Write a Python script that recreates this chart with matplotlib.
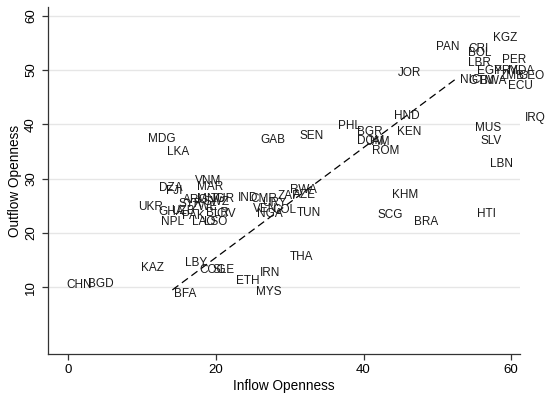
"""
Inflow vs outflow openness scatter (country labels) with fitted line
"""
import matplotlib
matplotlib.use("Agg")
import matplotlib.pyplot as plt

plt.rcParams["font.family"] = ["Liberation Sans", "DejaVu Sans"]

# country codes and their (inflow, outflow) openness
codes = ["MDG", "LKA", "GAB", "SEN", "PHL", "BGR", "DOM", "JAM", "ROM", "HND",
         "KEN", "JOR", "PAN", "CRI", "BOL", "KGZ", "LBR", "PER", "EGY", "PRY",
         "MDA", "ZMB", "GEO", "NIC", "GTM", "BWA", "ECU", "IRQ", "MUS", "SLV",
         "LBN", "VNM", "MAR", "DZA", "FJI", "UKR", "GHA", "NPL", "ARG", "MNG",
         "TUR", "SYR", "ZWE", "SWZ", "UZB", "PAK", "BLR", "CIV", "LAO", "LSO",
         "IND", "CMR", "URY", "ZAF", "RWA", "AZE", "VEN", "COL", "NGA", "TUN",
         "KHM", "SCG", "BRA", "HTI", "THA", "KAZ", "CHN", "BGD", "LBY", "COG",
         "SLE", "ETH", "IRN", "MYS", "BFA"]
inflow = [10.8, 13.4, 26.0, 31.3, 36.6, 39.1, 39.1, 40.5, 41.1, 44.1,
          44.5, 44.7, 49.8, 54.2, 54.2, 57.6, 54.2, 58.7, 55.4, 57.7,
          59.6, 58.5, 61.0, 53.1, 54.2, 55.8, 59.6, 61.9, 55.1, 55.8,
          57.1, 17.1, 17.5, 12.3, 13.3, 9.4, 12.2, 12.5, 15.6, 17.4,
          19.3, 15.0, 16.7, 18.3, 14.0, 15.4, 18.7, 20.1, 16.7, 18.4,
          23.0, 24.7, 26.2, 28.4, 30.0, 30.4, 25.0, 27.6, 25.6, 30.9,
          43.8, 41.9, 46.8, 55.3, 30.0, 9.9, -0.3, 2.7, 15.8, 17.8,
          19.6, 22.7, 25.9, 25.4, 14.3]
outflow = [37.3, 34.9, 37.1, 37.9, 39.6, 38.5, 37.0, 36.8, 35.1, 41.5,
           38.6, 49.4, 54.3, 53.9, 53.1, 55.9, 51.3, 51.9, 49.9, 49.8,
           49.8, 48.9, 48.9, 48.2, 47.9, 47.9, 47.1, 41.1, 39.4, 36.9,
           32.7, 29.6, 28.5, 28.3, 27.8, 24.7, 23.9, 22.0, 26.1, 26.3,
           26.3, 25.3, 24.8, 25.6, 24.1, 23.1, 23.7, 23.4, 22.0, 22.0,
           26.5, 26.2, 25.5, 26.8, 27.9, 26.9, 24.4, 24.3, 23.4, 23.6,
           27.0, 23.3, 22.0, 23.5, 15.5, 13.6, 10.4, 10.6, 14.4, 13.2,
           13.2, 11.2, 12.7, 9.1, 8.7]

# fitted line end points
fit_x = [14.1, 52.8]
fit_y = [9.5, 48.65]

fig = plt.figure(figsize=(5.58, 4.0), dpi=100)
ax = fig.add_axes([0.0853, 0.115, 0.8467, 0.8675])

for c, x, y in zip(codes, inflow, outflow):
    ax.text(x, y, c, ha="left", va="center", fontsize=8.5, color="#1a1a1a")

ax.plot(fit_x, fit_y, color="black", lw=0.9, ls=(0, (6, 3.5)))

ax.set_xlim(-2.8, 61.2)
ax.set_ylim(-2.3, 61.6)
ax.set_xticks([0, 20, 40, 60])
ax.set_yticks([10, 20, 30, 40, 50, 60])
ax.grid(axis="y", color="#e6e6e6", lw=1)
ax.set_axisbelow(True)
for s in ["top", "right"]:
    ax.spines[s].set_visible(False)
for s in ["left", "bottom"]:
    ax.spines[s].set_color("#333333")
    ax.spines[s].set_linewidth(0.9)
ax.tick_params(axis="both", labelsize=9.5, length=4, width=0.9, color="#333333")
plt.setp(ax.get_yticklabels(), rotation=90, va="center")
ax.set_xlabel("Inflow Openness", fontsize=9.8, labelpad=2)
ax.set_ylabel("Outflow Openness", fontsize=9.8, labelpad=2)

plt.savefig("out.png", dpi=100)
